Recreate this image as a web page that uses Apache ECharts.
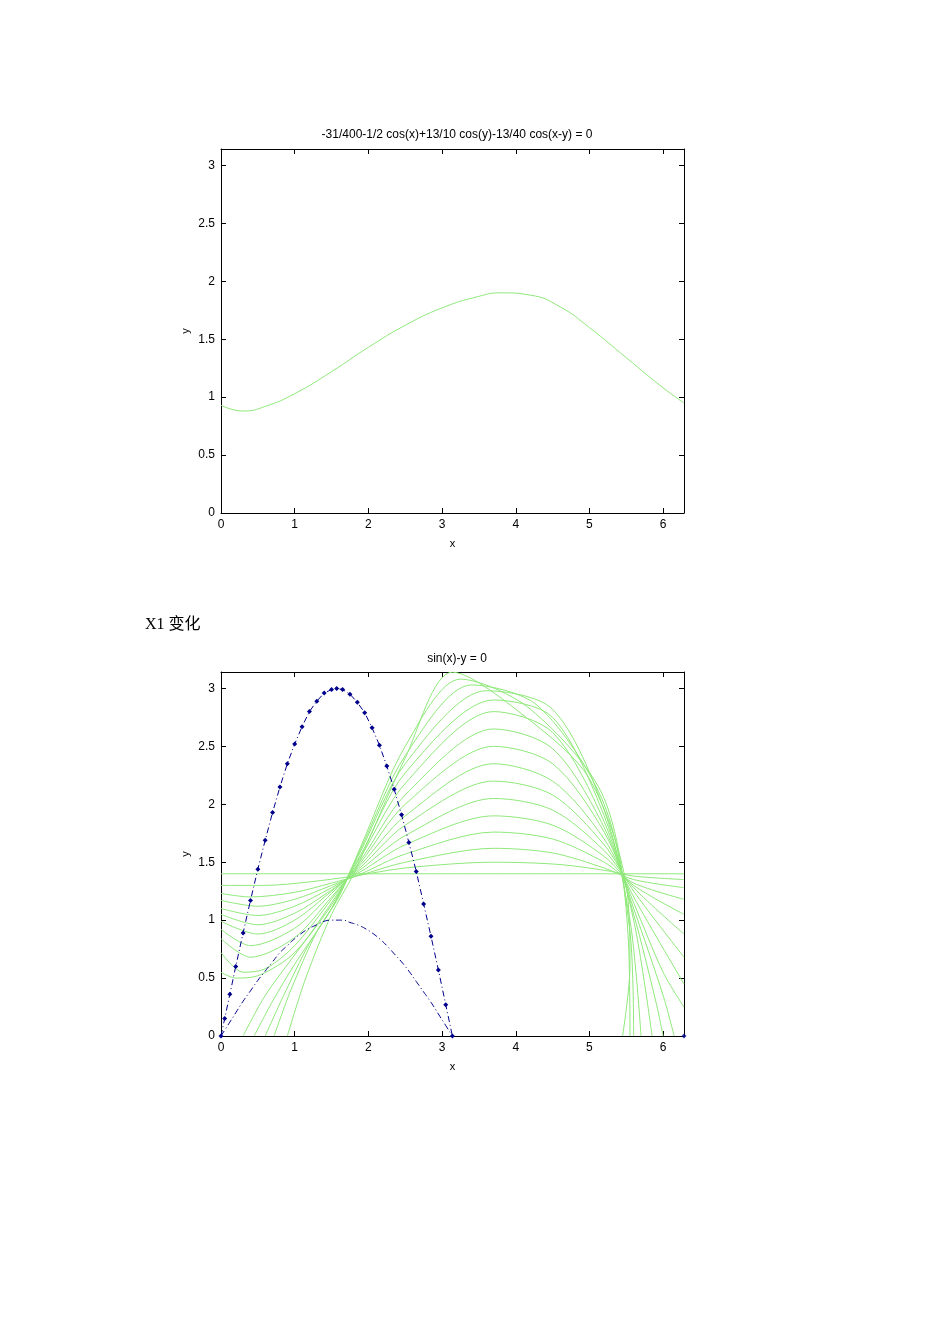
<!DOCTYPE html><html><head><meta charset="utf-8"><script src="https://cdn.jsdelivr.net/npm/echarts@6/dist/echarts.min.js"></script>
<style>html,body{margin:0;background:#fff}#c{width:950px;height:1344px}</style></head><body><div id="c"></div><script>
const title1='-31/400-1/2 cos(x)+13/10 cos(y)-13/40 cos(x-y) = 0';
const title2='sin(x)-y = 0';
const topCurve=[[0,0.93],[0.3,0.88],[0.6,0.92],[1.0,1.03],[1.5,1.22],[2.0,1.43],[2.5,1.62],[3.0,1.77],[3.5,1.87],[3.8,1.9],[4.2,1.88],[4.6,1.78],[5.0,1.6],[5.5,1.34],[6.0,1.08],[6.283,0.95]];
const blueX=[0,0.05,0.12,0.2,0.3,0.4,0.5,0.6,0.7,0.8,0.9,1.0,1.1,1.2,1.3,1.4,1.5,1.57,1.65,1.75,1.85,1.95,2.05,2.15,2.25,2.35,2.45,2.55,2.65,2.75,2.85,2.95,3.05,3.14];
const blueY=[0,0.15,0.36,0.6,0.89,1.17,1.44,1.69,1.93,2.15,2.35,2.52,2.67,2.80,2.89,2.96,2.99,3.0,2.99,2.95,2.88,2.79,2.66,2.51,2.33,2.13,1.91,1.67,1.42,1.14,0.86,0.57,0.27,0];
const smallY=[0,0.05,0.12,0.2,0.3,0.39,0.48,0.56,0.64,0.72,0.78,0.84,0.89,0.93,0.96,0.99,1.0,1.0,1.0,0.98,0.96,0.93,0.89,0.84,0.78,0.71,0.64,0.56,0.47,0.38,0.29,0.19,0.09,0];
const family=[
[[0,1.4],[6.283,1.4]],
[[0,1.3],[0.6,1.3],[1.2,1.33],[1.8,1.38],[2.5,1.45],[3.7,1.5],[4.6,1.48],[5.3,1.42],[5.6,1.38],[6.283,1.35]],
[[0,1.23],[0.4,1.2],[1.0,1.24],[1.5,1.32],[1.9,1.39],[2.5,1.5],[3.7,1.62],[4.5,1.58],[5.2,1.45],[5.6,1.35],[6.283,1.28]],
[[0,1.17],[0.5,1.12],[1.0,1.18],[1.5,1.3],[1.9,1.4],[2.5,1.57],[3.7,1.76],[4.5,1.7],[5.2,1.5],[5.6,1.32],[6.283,1.18]],
[[0,1.1],[0.5,1.04],[1.0,1.12],[1.5,1.28],[1.9,1.42],[2.5,1.65],[3.7,1.9],[4.5,1.82],[5.2,1.55],[5.6,1.3],[6.283,1.05]],
[[0,1.05],[0.5,0.96],[1.0,1.06],[1.5,1.26],[1.9,1.44],[2.5,1.73],[3.7,2.05],[4.5,1.95],[5.2,1.6],[5.6,1.28],[6.283,0.88]],
[[0,0.99],[0.5,0.88],[1.0,1.0],[1.5,1.25],[1.9,1.46],[2.5,1.82],[3.7,2.2],[4.5,2.08],[5.2,1.65],[5.6,1.25],[6.283,0.68]],
[[0,0.92],[0.4,0.78],[1.0,0.93],[1.5,1.23],[1.9,1.48],[2.5,1.9],[3.7,2.35],[4.5,2.2],[5.2,1.7],[5.6,1.2],[6.283,0.45]],
[[0,0.84],[0.4,0.68],[1.0,0.85],[1.5,1.2],[1.9,1.5],[2.5,2.0],[3.7,2.5],[4.5,2.35],[5.2,1.76],[5.6,1.15],[6.0,0.55],[6.283,0.25]],
[[0,0.72],[0.3,0.55],[0.6,0.58],[1.0,0.78],[1.5,1.18],[1.9,1.52],[2.5,2.08],[3.7,2.65],[4.5,2.48],[5.2,1.8],[5.6,1.1],[6.0,0.35],[6.15,0]],
[[0,0.55],[0.2,0.5],[0.5,0.52],[1.0,0.72],[1.5,1.15],[1.9,1.55],[2.5,2.18],[3.7,2.8],[4.5,2.62],[5.2,1.85],[5.6,1.05],[5.9,0.3],[6.0,0]],
[[0.3,0],[0.6,0.35],[1.0,0.7],[1.5,1.13],[1.9,1.57],[2.5,2.27],[3.7,2.9],[4.5,2.75],[5.2,1.9],[5.6,1.0],[5.85,0]],
[[0.45,0],[0.7,0.3],[1.0,0.62],[1.5,1.1],[1.9,1.6],[2.5,2.35],[3.6,2.98],[4.5,2.82],[5.2,1.95],[5.55,1.0],[5.7,0]],
[[0.6,0],[0.85,0.35],[1.2,0.8],[1.5,1.1],[1.9,1.62],[2.5,2.42],[3.4,3.03],[4.3,2.85],[5.2,2.0],[5.55,0.9],[5.6,0]],
[[0.72,0],[0.95,0.4],[1.3,0.9],[1.6,1.2],[1.9,1.64],[2.5,2.5],[3.25,3.08],[4.2,2.82],[5.2,2.05],[5.53,0.8],[5.55,0]],
[[0.9,0],[1.15,0.5],[1.5,1.05],[1.8,1.4],[2.5,2.4],[3.14,3.14],[4.2,2.72],[5.0,2.22],[5.5,1.3],[5.55,0.6],[5.45,0]]
];
const green='#8fe87a', navy='#00008b';
const chart=echarts.init(document.getElementById('c'));
const ax={onZero:false,lineStyle:{color:'#000'}};
function xA(gi,pos,lab){return {type:'value',gridIndex:gi,position:pos,min:0,max:6.2832,interval:1,axisLine:ax,axisTick:{inside:true,length:5,lineStyle:{color:'#000'}},splitLine:{show:false},axisLabel:{show:lab,showMaxLabel:false,color:'#000',fontSize:12,fontFamily:'Arial',margin:6},name:lab?'x':'',nameLocation:'middle',nameGap:25,nameTextStyle:{color:'#000',fontSize:11,fontFamily:'Arial'}};}
function yA(gi,pos,lab){return {type:'value',gridIndex:gi,position:pos,min:0,max:3.1416,interval:0.5,axisLine:ax,axisTick:{inside:true,length:5,lineStyle:{color:'#000'}},splitLine:{show:false},axisLabel:{show:lab,showMaxLabel:false,color:'#000',fontSize:12,fontFamily:'Arial',margin:6,formatter:v=>String(v)},name:lab?'y':'',nameLocation:'middle',nameGap:30,nameTextStyle:{color:'#000',fontSize:11,fontFamily:'Arial'}};}
const series=[{type:'line',xAxisIndex:0,yAxisIndex:0,data:topCurve,smooth:0.5,showSymbol:false,lineStyle:{color:green,width:1}}];
family.forEach(c=>series.push({type:'line',xAxisIndex:2,yAxisIndex:2,data:c,smooth:0.3,showSymbol:false,lineStyle:{color:green,width:1}}));
series.push({type:'line',xAxisIndex:2,yAxisIndex:2,data:blueX.map((x,i)=>[x,smallY[i]]),smooth:true,showSymbol:false,lineStyle:{color:navy,width:1,type:[6,3,1,3]}});
series.push({type:'line',xAxisIndex:2,yAxisIndex:2,data:blueX.map((x,i)=>[x,blueY[i]]),symbol:'diamond',symbolSize:5,itemStyle:{color:navy},lineStyle:{color:navy,width:1,type:[6,3,1,3]}});
series.push({type:'scatter',xAxisIndex:2,yAxisIndex:2,data:[[6.2832,0]],symbol:'diamond',symbolSize:5,itemStyle:{color:navy}});
chart.setOption({animation:false,
title:[{text:title1,left:452,top:124,textAlign:'center',textStyle:{fontSize:12,fontWeight:'normal',fontFamily:'Arial',color:'#000'}},
{text:title2,left:452,top:648,textAlign:'center',textStyle:{fontSize:12,fontWeight:'normal',fontFamily:'Arial',color:'#000'}}],
graphic:[{type:'text',left:145,top:617,style:{text:'X1 变化',fontSize:16,fontFamily:'"Liberation Serif","Noto Sans CJK SC",serif',fill:'#000'}}],
grid:[{left:221,top:149,width:463,height:364},{left:221,top:672,width:463,height:364}],
xAxis:[xA(0,'bottom',true),xA(0,'top',false),xA(1,'bottom',true),xA(1,'top',false)],
yAxis:[yA(0,'left',true),yA(0,'right',false),yA(1,'left',true),yA(1,'right',false)],
series});
</script></body></html>
